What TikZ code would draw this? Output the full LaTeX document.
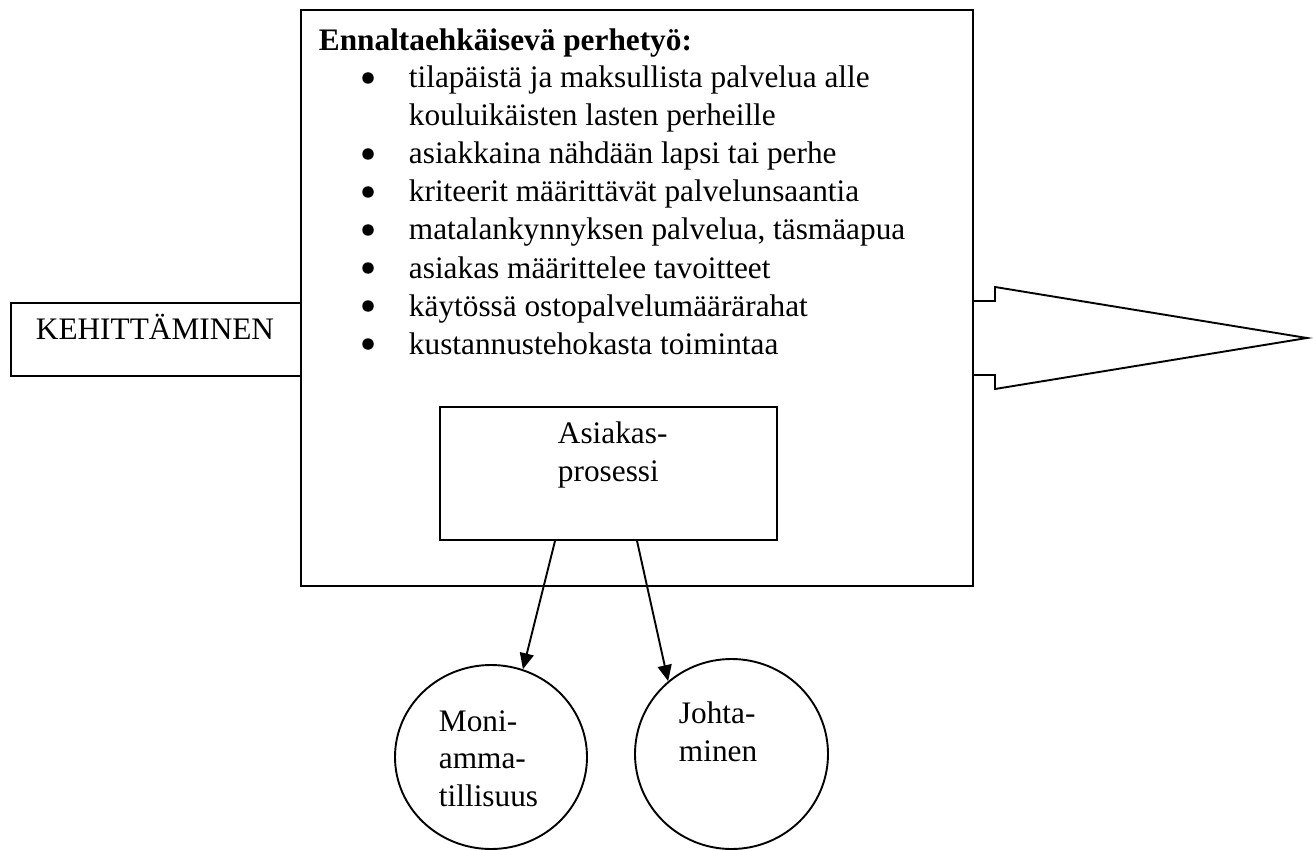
\documentclass[tikz,border=0pt]{standalone}
\usepackage{fontspec}
\setmainfont{Liberation Serif}
\usetikzlibrary{arrows.meta,calc,shapes.geometric}
\begin{document}
\begin{tikzpicture}[x=1pt,y=-1pt,line width=1.9pt,
  txt/.style={anchor=base west,inner sep=0pt,font=\fontsize{31.3}{37.9}\selectfont},
  ctxt/.style={anchor=base,inner sep=0pt,font=\fontsize{31.3}{37.9}\selectfont},
  dot/.style={circle,fill,inner sep=0pt,minimum size=11.5pt},
  box/.style={draw,line width=1.9pt,inner sep=0pt,anchor=north west},
  circ/.style={draw,ellipse,line width=1.9pt,inner sep=0pt},
  arr/.style={line width=1.9pt,-{Triangle[length=16pt,width=14pt]}}]
\useasboundingbox (0,0) rectangle (1313,850);
% main box
\node[box,minimum width=672pt,minimum height=576pt] (main) at (300,9) {};
% left box
\node[box,minimum width=290pt,minimum height=73pt] (keh) at (10,302) {};
\node[ctxt] (kehtxt) at (155,339) {KEHITTÄMINEN};
% right arrow
\draw[line join=miter] (972,301) -- (995,301) -- (995,287) -- (1307,338) -- (995,389) -- (995,375) -- (972,375);
% title and bullets
\node[txt,font=\fontsize{31.3}{37.9}\selectfont\bfseries] (title) at (318,51) {Ennaltaehkäisevä perhetyö:};
\foreach \y/\t/\b in {88/{tilapäistä ja maksullista palvelua alle}/1,
                      126/{kouluikäisten lasten perheille}/0,
                      164/{asiakkaina nähdään lapsi tai perhe}/1,
                      202/{kriteerit määrittävät palvelunsaantia}/1,
                      240/{matalankynnyksen palvelua, täsmäapua}/1,
                      278/{asiakas määrittelee tavoitteet}/1,
                      316/{käytössä ostopalvelumäärärahat}/1,
                      354/{kustannustehokasta toimintaa}/1}{
  \node[txt] (l\y) at (408,\y) {\t};
  \ifnum\b=1 \node[dot] (b\y) at (368,\y-10) {};\fi
}
% inner box
\node[box,minimum width=337pt,minimum height=133pt] (ap) at (439,406) {};
\node[txt] (ap1) at (557,443) {Asiakas-};
\node[txt] (ap2) at (557,481) {prosessi};
% circles
\node[circ,minimum width=192pt,minimum height=184pt] (moni) at (491,757) {};
\node[txt] (m1) at (438,731) {Moni-};
\node[txt] (m2) at (438,768) {amma-};
\node[txt] (m3) at (438,806) {tillisuus};
\node[circ,minimum width=193pt,minimum height=190pt] (johta) at (731.5,754) {};
\node[txt] (j1) at (678,723) {Johta-};
\node[txt] (j2) at (678,761) {minen};
% connectors
\draw[arr] ($(ap.south west)+(116,0)$) -- (moni.70);
\draw[arr] ($(ap.south west)+(198,0)$) -- (johta.131);
\end{tikzpicture}
\end{document}
